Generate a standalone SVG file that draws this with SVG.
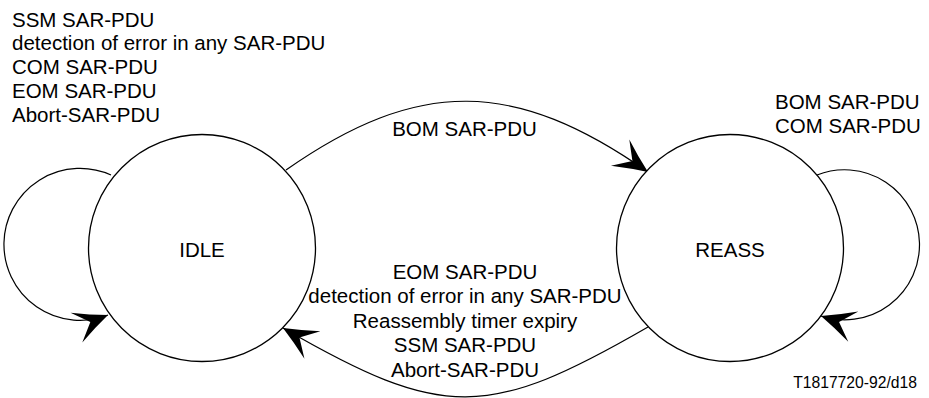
<svg xmlns="http://www.w3.org/2000/svg" width="929" height="398" viewBox="0 0 929 398">
<style>
  text { font-family: "Liberation Sans", Arial, sans-serif; font-size: 20.5px; fill: #000; }
  .state { fill: #fff; stroke: #000; stroke-width: 1.3; }
  .edge { fill: none; stroke: #000; stroke-width: 1.2; marker-end: url(#arr); }
  .mid { text-anchor: middle; }
  .note { font-size: 15.7px; text-anchor: end; }
</style>
<defs>
  <marker id="arr" markerUnits="userSpaceOnUse" viewBox="-36 -18 38 36" refX="0" refY="0" markerWidth="38" markerHeight="36" orient="auto">
    <path d="M0,0 Q-17,-7 -34,-16 L-19,0 L-34,16 Q-17,7 0,0 Z" fill="#000"/>
  </marker>
</defs>
<g id="connectors">
  <path class="edge" d="M111,175 A76,76 0 1 0 108,315"/>
  <path class="edge" d="M817,175 A75,75 0 1 1 821,316"/>
  <path class="edge" d="M286,170 C419,77 515,79 648,172"/>
  <path class="edge" d="M648,327 C488,419.5 443,420.5 283,328"/>
</g>
<g id="idle">
  <circle class="state" cx="202" cy="248" r="113.5"/>
  <text class="mid" x="202" y="257">IDLE</text>
</g>
<g id="reass">
  <circle class="state" cx="730" cy="248" r="113.5"/>
  <text class="mid" x="730" y="257">REASS</text>
</g>
<g id="labels">
  <text x="12" y="26.5">SSM SAR-PDU</text>
  <text x="12" y="50.3">detection of error in any SAR-PDU</text>
  <text x="12" y="74.1">COM SAR-PDU</text>
  <text x="12" y="97.9">EOM SAR-PDU</text>
  <text x="12" y="121.7">Abort-SAR-PDU</text>
  <text class="mid" x="464.5" y="136">BOM SAR-PDU</text>
  <text x="775" y="109">BOM SAR-PDU</text>
  <text x="775" y="133">COM SAR-PDU</text>
  <text class="mid" x="465" y="278.5">EOM SAR-PDU</text>
  <text class="mid" x="465" y="303.1">detection of error in any SAR-PDU</text>
  <text class="mid" x="465" y="327.7">Reassembly timer expiry</text>
  <text class="mid" x="465" y="352.3">SSM SAR-PDU</text>
  <text class="mid" x="465" y="376.9">Abort-SAR-PDU</text>
  <text class="note" x="917" y="388">T1817720-92/d18</text>
</g>
</svg>
